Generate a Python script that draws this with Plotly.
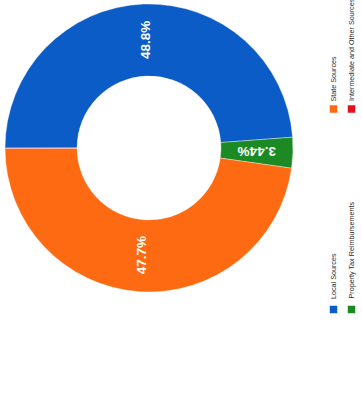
import math
import plotly.graph_objects as go

# ---- data ----
labels = ["Local Sources", "Property Tax Reimbursements", "State Sources", "Intermediate and Other Sources"]
values = [48.8, 3.44, 47.7, 0.06]
value_labels = ["48.8%", "3.44%", "47.7%", ""]

# ---- styles ----
colors = ["#0b5cc6", "#1b8a25", "#fd6a12", "#e2121c"]
label_angles = [-90, 180, -90, 0]

W, H = 362, 398
CX, CY, R = 149, 148, 144   # donut centre / radius in px
HOLE = 0.5
START_DEG = 180  # first slice starts at 9 o'clock, runs clockwise


def px(x, y):
    return x / W, 1 - y / H


fig = go.Figure()
x0, y0 = px(CX - R, CY + R)
x1, y1 = px(CX + R, CY - R)
fig.add_trace(go.Pie(
    labels=labels, values=values, hole=HOLE, sort=False,
    direction="clockwise", rotation=-90,
    marker=dict(colors=colors, line=dict(color="rgba(255,255,255,0.6)", width=0.6)),
    textinfo="none", hoverinfo="label+percent",
    domain=dict(x=[x0, x1], y=[y0, y1]),
    showlegend=False,
))

annotations = []
shapes = []
total = sum(values)
cum = 0
for v, t, ang in zip(values, value_labels, label_angles):
    mid = START_DEG - 360 * (cum + v / 2) / total
    cum += v
    if not t:
        continue
    r = R * (1 + HOLE) / 2
    ax = CX + r * math.cos(math.radians(mid))
    ay = CY - r * math.sin(math.radians(mid))
    xx, yy = px(ax, ay)
    annotations.append(dict(
        x=xx, y=yy, xref="paper", yref="paper", text=t, showarrow=False,
        textangle=ang, xanchor="center", yanchor="middle",
        font=dict(family="Arial, Liberation Sans, sans-serif", size=13.5, color="white", weight="bold"),
    ))

# custom rotated legend
col_x = [333.5, 351.5]
row_sq = [309.5, 109]
row_text = [301, 103.5]
SQ = 7.5
for i, (lab, c) in enumerate(zip(labels, colors)):
    col, row = i % 2, i // 2
    sx, sy = col_x[col], row_sq[row]
    shapes.append(dict(type="rect", xref="paper", yref="paper",
                       x0=(sx - SQ / 2) / W, x1=(sx + SQ / 2) / W,
                       y0=1 - (sy + SQ / 2) / H, y1=1 - (sy - SQ / 2) / H,
                       fillcolor=c, line=dict(width=0)))
    tx, ty = px(sx - 0.5, row_text[row])
    annotations.append(dict(
        x=tx, y=ty, xref="paper", yref="paper", text=lab, showarrow=False,
        textangle=-90, xanchor="center", yanchor="bottom",
        font=dict(family="Arial, Liberation Sans, sans-serif", size=7.2, color="#2a2a2a"),
    ))

fig.update_layout(
    width=W, height=H, margin=dict(l=0, r=0, t=0, b=0),
    paper_bgcolor="white", plot_bgcolor="white",
    annotations=annotations, shapes=shapes,
)
fig.write_html("out.html", config={"displayModeBar": False},
               post_script="document.body.style.margin='0px';document.body.style.overflow='hidden';")
